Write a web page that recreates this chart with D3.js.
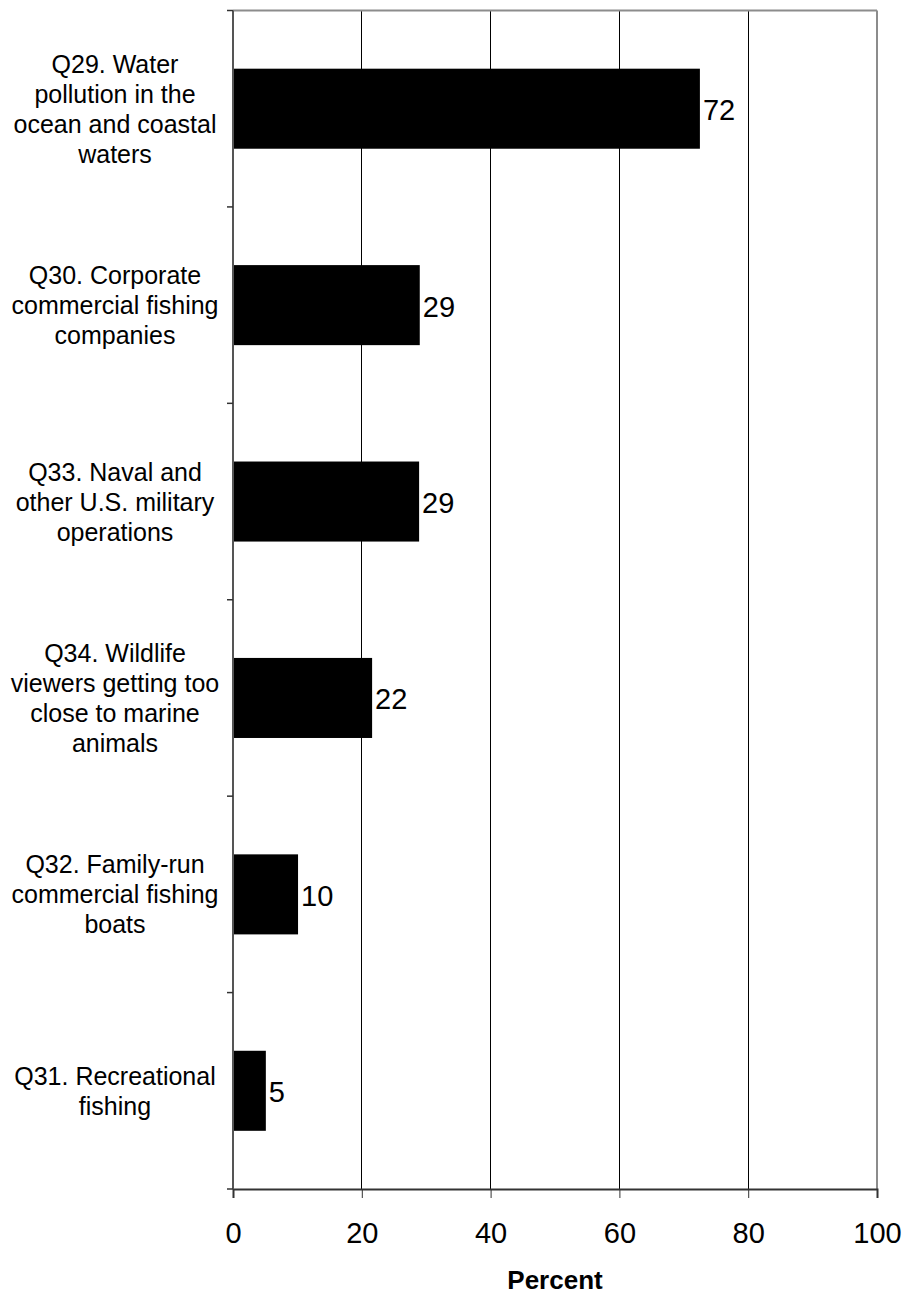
<!DOCTYPE html>
<html><head><meta charset="utf-8">
<script src="https://cdn.jsdelivr.net/npm/d3@7"></script>
<style>body{margin:0;background:#fff}svg{display:block;font-family:"Liberation Sans",Arial,sans-serif}</style>
</head><body>
<script>
const categories = [
  ["Q29. Water","pollution in the","ocean and coastal","waters"],
  ["Q30. Corporate","commercial fishing","companies"],
  ["Q33. Naval and","other U.S. military","operations"],
  ["Q34. Wildlife","viewers getting too","close to marine","animals"],
  ["Q32. Family-run","commercial fishing","boats"],
  ["Q31. Recreational","fishing"]
];
const values = [72.5, 29, 28.9, 21.6, 10.1, 5.1];
const valueLabels = ["72","29","29","22","10","5"];
const xTicks = [0,20,40,60,80,100];
const xTitle = "Percent";

const W=906,H=1296;
const m={l:233,r:29,t:10.5,b:107};
const svg=d3.select("body").append("svg").attr("width",W).attr("height",H);
const x=d3.scaleLinear().domain([0,100]).range([m.l,W-m.r]);
const y=d3.scaleBand().domain(d3.range(categories.length)).range([m.t,H-m.b]).paddingInner(0.5925).paddingOuter(0.29625);
const yb=d3.scaleBand().domain(d3.range(categories.length)).range([m.t,H-m.b]);

// gridlines
svg.append("g").selectAll("line").data(xTicks.filter(d=>d>0&&d<100)).join("line")
  .attr("x1",d=>x(d)).attr("x2",d=>x(d)).attr("y1",m.t).attr("y2",H-m.b)
  .attr("stroke","#000").attr("stroke-width",1).attr("shape-rendering","crispEdges");
// top & right border
svg.append("line").attr("x1",m.l).attr("x2",x(100)).attr("y1",m.t).attr("y2",m.t).attr("stroke","#8c8c8c").attr("stroke-width",2);
svg.append("line").attr("x1",x(100)).attr("x2",x(100)).attr("y1",m.t).attr("y2",H-m.b).attr("stroke","#8c8c8c").attr("stroke-width",2);

// bars
svg.append("g").selectAll("rect").data(values).join("rect")
  .attr("x",x(0)).attr("y",(d,i)=>y(i)).attr("width",d=>x(d)-x(0)).attr("height",y.bandwidth()).attr("fill","#000");
// value labels
svg.append("g").selectAll("text").data(values).join("text")
  .attr("x",d=>x(d)+3).attr("y",(d,i)=>y(i)+y.bandwidth()/2+1).attr("dy","0.36em")
  .attr("font-size",29).text((d,i)=>valueLabels[i]);

// x axis
const xa=svg.append("g").attr("transform",`translate(0,${H-m.b})`)
  .call(d3.axisBottom(x).tickValues(xTicks).tickSize(9).tickPadding(0));
xa.select(".domain").attr("stroke","#333").attr("stroke-width",2);
xa.selectAll(".tick line").attr("stroke","#333");
xa.selectAll("text").attr("font-size",29).attr("fill","#000").attr("dy",null).attr("y",54)
  .attr("font-family","Liberation Sans, Arial, sans-serif");

// y axis
const ya=svg.append("g").attr("transform",`translate(${m.l},0)`);
ya.append("line").attr("x1",0).attr("x2",0).attr("y1",m.t).attr("y2",H-m.b).attr("stroke","#555").attr("stroke-width",2);
const edges=d3.range(categories.length+1).map(i=>m.t+i*yb.step());
ya.selectAll(".yt").data(edges).join("line").attr("class","yt")
  .attr("x1",-6).attr("x2",0).attr("y1",d=>d).attr("y2",d=>d).attr("stroke","#333").attr("stroke-width",1.5);

// category labels
const lh=30;
const cl=svg.append("g").selectAll("text").data(categories).join("text")
  .attr("text-anchor","middle").attr("font-size",25).attr("fill","#000");
cl.each(function(lines,i){
  const cy=yb(i)+yb.bandwidth()/2 - (lines.length-1)*lh/2;
  d3.select(this).selectAll("tspan").data(lines).join("tspan")
    .attr("x",115).attr("y",(d,j)=>cy+j*lh).attr("dy","0.36em").text(d=>d);
});

// x title
svg.append("text").attr("x",x(50)).attr("y",1289).attr("text-anchor","middle")
  .attr("font-size",26).attr("font-weight","bold").text(xTitle);
</script>
</body></html>
